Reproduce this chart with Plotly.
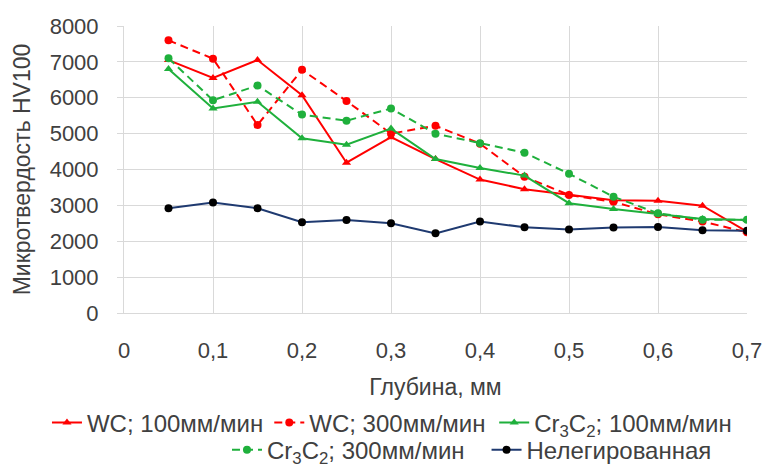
import plotly.graph_objects as go

depth = [0.05, 0.1, 0.15, 0.2, 0.25, 0.3, 0.35, 0.4, 0.45, 0.5, 0.55, 0.6, 0.65, 0.7]
wc_100 = [7050, 6550, 7050, 6070, 4190, 4900, 4290, 3720, 3450, 3300, 3140, 3130, 2990, 2270]
wc_300 = [7600, 7090, 5240, 6780, 5910, 5000, 5220, 4720, 3800, 3290, 3100, 2750, 2550, 2250]
cr_100 = [6800, 5700, 5890, 4870, 4690, 5140, 4290, 4040, 3830, 3060, 2900, 2760, 2620, 2590]
cr_300 = [7100, 5930, 6340, 5530, 5360, 5700, 5000, 4730, 4470, 3880, 3240, 2780, 2600, 2600]
base = [2920, 3080, 2920, 2530, 2590, 2500, 2220, 2550, 2390, 2330, 2380, 2400, 2310, 2290]

x_tickvals = [0, 0.1, 0.2, 0.3, 0.4, 0.5, 0.6, 0.7]
x_ticktext = ["0", "0,1", "0,2", "0,3", "0,4", "0,5", "0,6", "0,7"]

names = ["WC; 100мм/мин", "WC; 300мм/мин", "Cr<sub>3</sub>C<sub>2</sub>; 100мм/мин",
         "Cr<sub>3</sub>C<sub>2</sub>; 300мм/мин", "Нелегированная"]

RED = "#FF0000"
GREEN = "#1FB03C"
NAVY = "#1F3A70"
TXT = "#404040"

FONT = "Liberation Sans, Arial, sans-serif"
fig = go.Figure()

series = [
    (wc_100, names[0], RED, "solid", "triangle-up", RED, "legend"),
    (wc_300, names[1], RED, "8px,5px", "circle", RED, "legend2"),
    (cr_100, names[2], GREEN, "solid", "triangle-up", GREEN, "legend3"),
    (cr_300, names[3], GREEN, "8px,5px", "circle", GREEN, "legend4"),
    (base, names[4], NAVY, "solid", "circle", "#000000", "legend5"),
]
for ys, nm, col, dash, sym, mcol, lg in series:
    fig.add_trace(go.Scatter(x=depth, y=ys, name=nm, mode="lines+markers",
                             line=dict(color=col, width=2, dash=dash),
                             marker=dict(symbol=sym, size=8, color=mcol),
                             legend=lg, showlegend=True))

# legend anchor positions (container fractions)
leg_pos = {"legend": (0.0614, 0.0923), "legend2": (0.352, 0.0923), "legend3": (0.646, 0.0923),
           "legend4": (0.2967, 0.034), "legend5": (0.636, 0.034)}
legends = {}
for key, (lx, ly) in leg_pos.items():
    legends[key] = dict(orientation="h", xref="container", yref="container",
                        x=lx, xanchor="left", y=ly, yanchor="middle",
                        font=dict(size=24, color=TXT), itemwidth=30, tracegroupgap=0,
                        bgcolor="rgba(0,0,0,0)", visible=True)

fig.update_layout(
    width=765, height=466,
    showlegend=True,
    margin=dict(l=124, r=18, t=26, b=153, autoexpand=False),
    paper_bgcolor="white", plot_bgcolor="white",
    font=dict(family=FONT, size=22, color=TXT),
    xaxis=dict(range=[0, 0.7], tickvals=x_tickvals, ticktext=x_ticktext,
               showgrid=True, gridcolor="#D9D9D9", gridwidth=1,
               showline=True, linecolor="#D9D9D9", linewidth=1,
               ticks="", ticklabelstandoff=18, zeroline=False,
               title=dict(text="Глубина, мм", standoff=30, font=dict(size=23, color=TXT)),
               tickfont=dict(size=22, color=TXT)),
    yaxis=dict(range=[0, 8000], dtick=1000, tickformat="d",
               showgrid=True, gridcolor="#D9D9D9", gridwidth=1,
               showline=True, linecolor="#D9D9D9", linewidth=1,
               ticks="outside", ticklen=6, tickcolor="#D9D9D9", zeroline=False,
               ticklabelstandoff=14,
               title=dict(text="Микротвердость HV100", standoff=12, font=dict(size=23, color=TXT)),
               tickfont=dict(size=22, color=TXT)),
    **legends,
)

fig.write_html("out.html")
